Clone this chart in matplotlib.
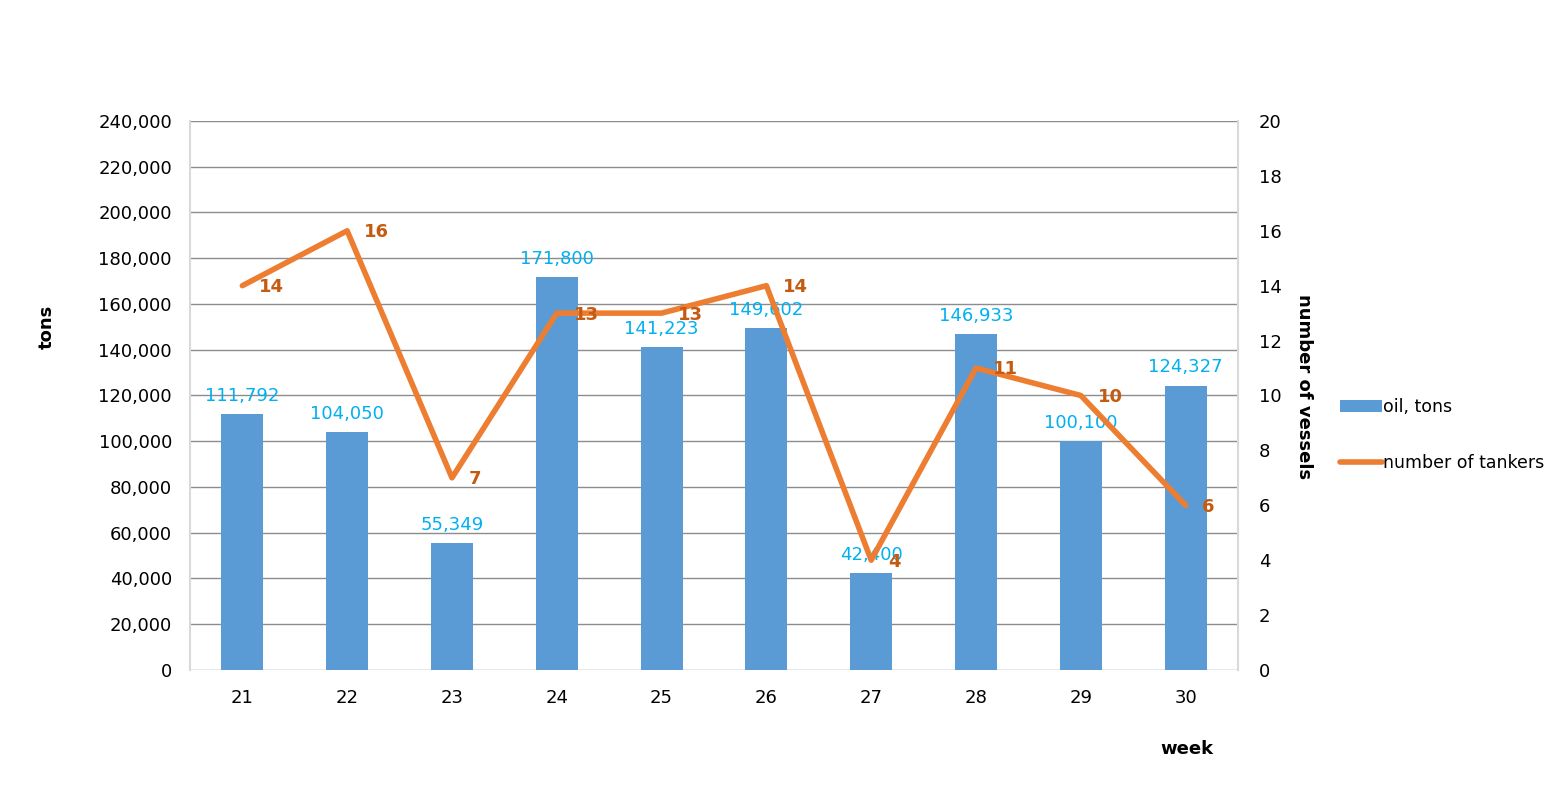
import matplotlib.pyplot as plt
from matplotlib.ticker import FuncFormatter, MultipleLocator

weeks = ["21", "22", "23", "24", "25", "26", "27", "28", "29", "30"]
oil_tons = [111792, 104050, 55349, 171800, 141223, 149602, 42400, 146933, 100100, 124327]
tankers = [14, 16, 7, 13, 13, 14, 4, 11, 10, 6]

BAR_COLOR = "#5B9BD5"
LINE_COLOR = "#ED7D31"
BAR_LABEL_COLOR = "#00B0F0"
LINE_LABEL_COLOR = "#C55A11"

plt.rcParams["font.family"] = ["DejaVu Sans"]

fig = plt.figure(figsize=(15.62, 7.98), dpi=100)
ax = fig.add_axes([0.1216, 0.1604, 0.6710, 0.6880])
x = list(range(len(weeks)))

ax.bar(x, oil_tons, width=0.4, color=BAR_COLOR, label="oil, tons", zorder=2)
ax.set_xlim(-0.5, len(weeks) - 0.5)
ax.set_ylim(0, 240000)
ax.yaxis.set_major_locator(MultipleLocator(20000))
ax.yaxis.set_major_formatter(FuncFormatter(lambda v, p: f"{int(v):,}"))
ax.grid(axis="y", color="#8c8c8c", linewidth=1, zorder=0)
ax.set_axisbelow(True)
ax.set_xticks(x)
ax.set_xticklabels(weeks)
ax.tick_params(axis="y", length=0, labelsize=13, pad=13)
ax.tick_params(axis="x", length=0, labelsize=13, pad=14)
for side in ["top", "right", "bottom"]:
    ax.spines[side].set_visible(False)
ax.spines["left"].set_color("#d9d9d9")
ax.spines["left"].set_linewidth(1.5)

for xi, v in zip(x, oil_tons):
    ax.text(xi, v + 4000, f"{v:,}", ha="center", va="bottom",
            color=BAR_LABEL_COLOR, fontsize=13)

ax2 = ax.twinx()
ax2.plot(x, tankers, color=LINE_COLOR, linewidth=4, solid_capstyle="round",
         label="number of tankers", zorder=3)
ax2.set_ylim(0, 20)
ax2.yaxis.set_major_locator(MultipleLocator(2))
ax2.tick_params(axis="y", length=0, labelsize=13, pad=15)
for side in ["top", "left", "bottom"]:
    ax2.spines[side].set_visible(False)
ax2.spines["right"].set_color("#d9d9d9")
ax2.spines["right"].set_linewidth(1.5)

for xi, v in zip(x, tankers):
    ax2.annotate(str(v), (xi, v), xytext=(12, -1), textcoords="offset points",
                 ha="left", va="center", color=LINE_LABEL_COLOR,
                 fontsize=13, fontweight="bold")

fig.text(0.030, 0.59, "tons", rotation=90, ha="center", va="center",
         fontsize=13, fontweight="bold")
fig.text(0.835, 0.515, "number of vessels", rotation=270, ha="center", va="center",
         fontsize=13, fontweight="bold")
fig.text(0.760, 0.062, "week", ha="center", va="center",
         fontsize=13, fontweight="bold")

h1, l1 = ax.get_legend_handles_labels()
h2, l2 = ax2.get_legend_handles_labels()
fig.legend(h1 + h2, l1 + l2, loc="center left", bbox_to_anchor=(0.848, 0.455),
           frameon=False, fontsize=12.5, labelspacing=2.2, handlelength=2.4,
           handletextpad=0.05)

fig.savefig("out.png", dpi=100)
